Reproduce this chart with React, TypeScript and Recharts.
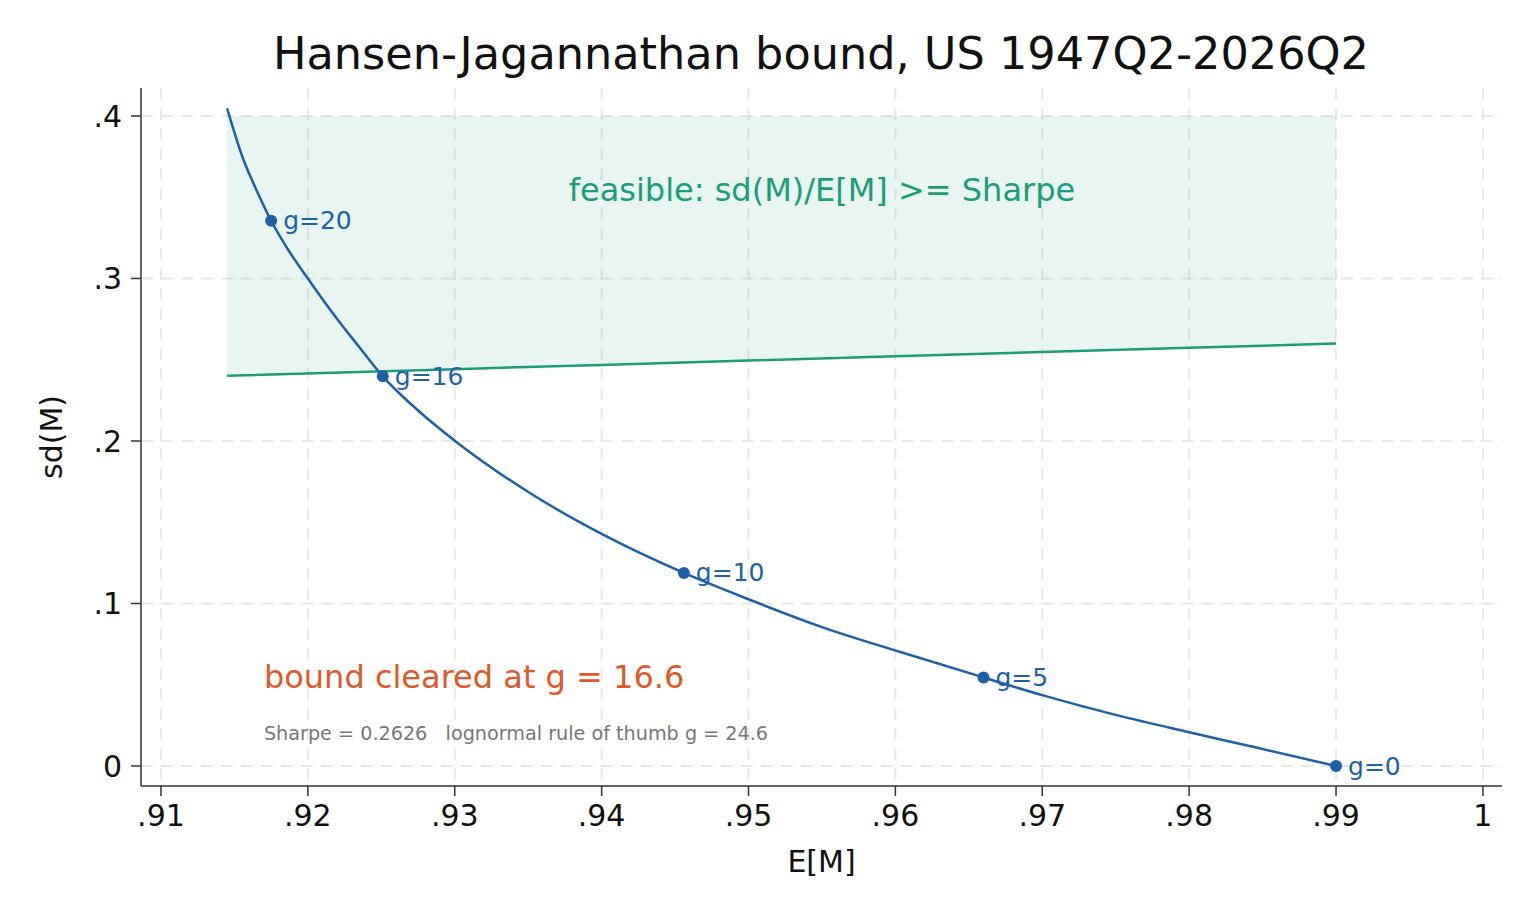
import {
  ComposedChart,
  Area,
  Line,
  Scatter,
  XAxis,
  YAxis,
  CartesianGrid,
  ReferenceDot,
  Label,
} from "recharts";

// HJ frontier of the consumption-CAPM SDF: E[M] vs sd(M)
const curveE = [0.9145, 0.9156, 0.9166, 0.9175, 0.9186, 0.92, 0.9218, 0.9234, 0.9251, 0.9276, 0.93, 0.9349, 0.94, 0.9456, 0.95, 0.955, 0.9604, 0.966, 0.97, 0.9752, 0.98, 0.9845, 0.99];
const curveSd = [0.4047, 0.3735, 0.3525, 0.3355, 0.3185, 0.3, 0.2774, 0.2589, 0.2398, 0.218, 0.2002, 0.1692, 0.1428, 0.1188, 0.1026, 0.0855, 0.07, 0.0545, 0.0436, 0.031, 0.0208, 0.0115, 0];

// Sharpe bound line sd(M) = Sharpe * E[M]
const boundE = [0.9145, 0.93, 0.94, 0.95, 0.96, 0.97, 0.98, 0.99];
const boundSd = [0.2401, 0.2442, 0.2468, 0.2495, 0.2521, 0.2547, 0.2573, 0.26];
const feasibleTop = 0.4;

// labelled risk-aversion points
const markerG = [20, 16, 10, 5, 0];
const markerE = [0.9175, 0.9251, 0.9456, 0.966, 0.99];
const markerSd = [0.3355, 0.2398, 0.1188, 0.0545, 0];

const xTicks = [0.91, 0.92, 0.93, 0.94, 0.95, 0.96, 0.97, 0.98, 0.99, 1];
const yTicks = [0, 0.1, 0.2, 0.3, 0.4];

const BLUE = "#1f5fa8";
const GREEN = "#1b9e77";
const ORANGE = "#de5a2a";
const FONT = "DejaVu Sans";

type Row = { e: number; sd?: number; bound?: number; band?: [number, number] };

const rows: Row[] = [];
curveE.forEach((e, i) => rows.push({ e, sd: curveSd[i] }));
boundE.forEach((e, i) => rows.push({ e, bound: boundSd[i], band: [boundSd[i], feasibleTop] }));
rows.sort((a, b) => a.e - b.e);

const markers = markerG.map((g, i) => ({ e: markerE[i], sd: markerSd[i], label: `g=${g}` }));

const fmtX = (v: number) => (v === 1 ? "1" : v.toFixed(2).replace(/^0/, ""));
const fmtY = (v: number) => (v === 0 ? "0" : v.toFixed(1).replace(/^0/, ""));

const tickStyle = { fill: "#111", fontSize: 30, fontFamily: FONT };

const MarkerShape = (p: any) => (
  <g>
    <circle cx={p.cx} cy={p.cy} r={6} fill={BLUE} />
    <text x={p.cx + 12} y={p.cy} dominantBaseline="central" fill={BLUE} fontSize={25} fontFamily={FONT}>
      {p.payload.label}
    </text>
  </g>
);

const note = (txt: string, color: string, size: number, anchor: "start" | "middle") => (p: any) => (
  <text
    x={p.cx}
    y={p.cy}
    textAnchor={anchor}
    dominantBaseline="central"
    fill={color}
    fontSize={size}
    fontFamily={FONT}
    style={{ whiteSpace: "pre" }}
  >
    {txt}
  </text>
);

export default function App() {
  return (
    <div style={{ position: "absolute", left: 0, top: 0, width: 1536, height: 921, background: "#fff" }}>
      <div
        style={{
          position: "absolute",
          top: 32,
          left: 121,
          width: 1400,
          textAlign: "center",
          fontFamily: FONT,
          fontSize: 44.6,
          lineHeight: "44px",
          color: "#111",
        }}
      >
        Hansen-Jagannathan bound, US 1947Q2-2026Q2
      </div>
      <ComposedChart
        width={1536}
        height={921}
        data={rows}
        margin={{ top: 88, right: 34, left: 20, bottom: 35 }}
      >
        <CartesianGrid stroke="#e8e8e8" strokeWidth={2} strokeDasharray="12 8" syncWithTicks />
        <XAxis
          type="number"
          dataKey="e"
          domain={[0.90864, 1.0013]}
          ticks={xTicks}
          tickFormatter={fmtX}
          tick={tickStyle}
          tickSize={10}
          tickMargin={9}
          height={100}
          stroke="#333"
          strokeWidth={1.5}
        >
          <Label value="E[M]" position="insideBottom" offset={14} fill="#111" fontSize={30} fontFamily={FONT} />
        </XAxis>
        <YAxis
          type="number"
          domain={[-0.0123, 0.4172]}
          ticks={yTicks}
          tickFormatter={fmtY}
          tick={tickStyle}
          tickSize={10}
          tickMargin={9}
          width={121}
          stroke="#333"
          strokeWidth={1.5}
        >
          <Label
            value="sd(M)"
            position="insideLeft"
            angle={-90}
            offset={31}
            fill="#111"
            fontSize={30}
            fontFamily={FONT}
            style={{ textAnchor: "middle" }}
          />
        </YAxis>
        <Area
          dataKey="band"
          type="linear"
          stroke="none"
          fill={GREEN}
          fillOpacity={0.1}
          connectNulls
          isAnimationActive={false}
        />
        <Line
          dataKey="bound"
          type="linear"
          stroke={GREEN}
          strokeWidth={2.5}
          dot={false}
          connectNulls
          isAnimationActive={false}
        />
        <Line
          dataKey="sd"
          type="monotone"
          stroke={BLUE}
          strokeWidth={2.5}
          dot={false}
          connectNulls
          isAnimationActive={false}
        />
        <Scatter data={markers} dataKey="sd" shape={MarkerShape} isAnimationActive={false} />
        <ReferenceDot x={0.955} y={0.3545} r={0} shape={note("feasible: sd(M)/E[M] >= Sharpe", GREEN, 32, "middle")} />
        <ReferenceDot x={0.91701} y={0.0548} r={0} shape={note("bound cleared at g = 16.6", ORANGE, 32, "start")} />
        <ReferenceDot
          x={0.91701}
          y={0.0197}
          r={0}
          shape={note("Sharpe = 0.2626   lognormal rule of thumb g = 24.6", "#777", 19.2, "start")}
        />
      </ComposedChart>
    </div>
  );
}
